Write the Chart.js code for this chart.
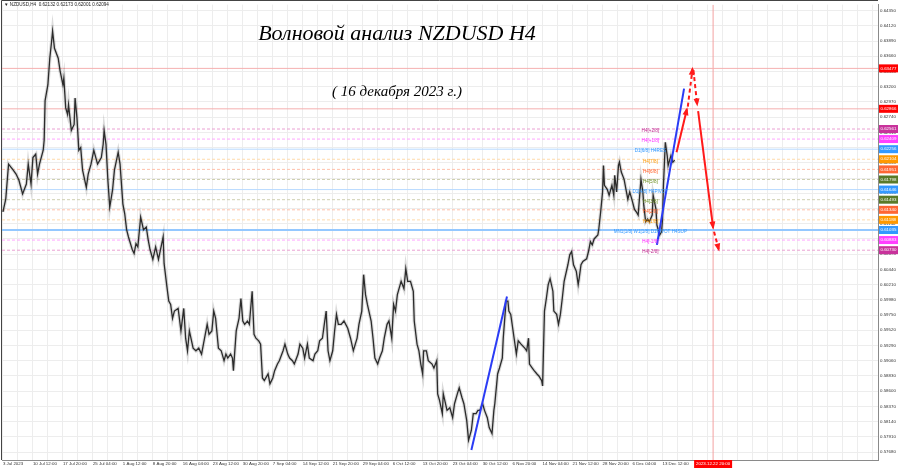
<!DOCTYPE html>
<html>
<head>
<meta charset="utf-8">
<script src="https://cdn.jsdelivr.net/npm/chart.js@4.4.1/dist/chart.umd.min.js"></script>
<style>
html, body { margin: 0; padding: 0; background: #fff; overflow: hidden; }
</style>
</head>
<body>
<canvas id="chart" width="900" height="468"></canvas>
<script>
// bar index (H4 bars since 3 Jul 2023) and close price
const priceBars = [0,3,6,11,14,17,21,25,27,30,32,35,37,39,43,44,45,48,50,52,53,55,59,61,64,65,67,69,70,73,76,77,79,81,83,85,89,91,94,97,101,105,107,108,110,112,114,117,119,123,125,128,130,132,134,138,140,142,144,147,150,153,155,157,160,163,166,171,172,175,177,
  179,181,183,187,190,193,195,197,199,203,206,209,212,214,218,220,223,225,227,230,233,236,238,240,243,245,246,249,252,254,256,258,261,263,266,268,270,273,275,277,279,283,285,288,290,293,295,299,301,304,306,309,311,315,317,320,322,325,327,331,333,336,338,341,343,345,347,349,352,354,356,358,
  361,364,368,371,374,378,380,383,385,387,389,393,395,397,400,402,405,407,410,412,415,417,419,421,425,428,430,432,435,438,439,442,444,446,448,449,452,454,458,460,463,464,466,469,470,474,477,480,482,485,487,490,492,495,497,500,502,505,507,509,512,514,517,519,522,524,525,528,530,533,534,537,539,540,
  542,545,548,550,553,557,559,561,562,565,567,570,572,575,576,578,580,582,584,587,588,591,593,595,597,599,603,605,607,609,612,614,615,617,619,623,625,627,629,631,635,636,638,640,641,642,645,647,650,652,653,655,657,658,660,663,665,667,669,672,674,676,678,681,683,684,686,688,690,693,694,697,698,701,703,704,705,707,709,710,713,715,717];
const priceClose = [0.6131,0.6150,0.6203,0.6194,0.6188,0.6179,0.6158,0.6173,0.6203,0.6173,0.6213,0.6218,0.6188,0.6203,0.6224,0.6239,0.6299,0.6323,0.6363,0.6389,0.6404,0.6378,0.6363,0.6344,0.6323,0.6333,0.6288,0.6278,0.6293,0.6254,0.6263,0.6303,0.6273,0.6224,0.6228,0.6194,0.6168,0.6188,0.6203,0.6224,0.6203,0.6213,0.6233,0.6254,0.6233,0.6179,0.6138,0.6164,0.6194,0.6221,0.6203,0.6143,0.6128,0.6104,0.6093,0.6074,0.6068,0.6083,0.6078,0.6123,0.6104,0.6108,0.6089,0.6074,0.6059,0.6078,0.6059,0.6093,0.6053,0.6018,0.5996,
  0.5991,0.5970,0.5981,0.5985,0.5951,0.5985,0.5940,0.5921,0.5951,0.5925,0.5921,0.5925,0.5916,0.5931,0.5961,0.5946,0.5951,0.5981,0.5970,0.5925,0.5921,0.5906,0.5916,0.5910,0.5916,0.5910,0.5891,0.5951,0.5970,0.6000,0.5966,0.5961,0.5966,0.5961,0.6011,0.5946,0.5940,0.5936,0.5931,0.5880,0.5876,0.5886,0.5871,0.5880,0.5891,0.5901,0.5906,0.5921,0.5931,0.5916,0.5910,0.5906,0.5901,0.5916,0.5931,0.5925,0.5910,0.5931,0.5910,0.5906,0.5916,0.5921,0.5936,0.5940,0.5961,0.5981,0.5921,0.5906,0.5921,0.5951,0.5976,0.5961,
  0.5961,0.5966,0.5955,0.5940,0.5921,0.5940,0.5961,0.5981,0.6036,0.6006,0.5991,0.5966,0.5940,0.5910,0.5901,0.5910,0.5921,0.5940,0.5961,0.5966,0.5940,0.5991,0.5981,0.6006,0.6026,0.6015,0.6045,0.6026,0.6026,0.6011,0.5966,0.5931,0.5921,0.5901,0.5886,0.5921,0.5921,0.5906,0.5901,0.5895,0.5906,0.5856,0.5846,0.5826,0.5856,0.5831,0.5835,0.5820,0.5841,0.5856,0.5865,0.5850,0.5841,0.5816,0.5786,0.5801,0.5826,0.5826,0.5831,0.5831,0.5841,0.5831,0.5820,0.5805,0.5796,0.5831,0.5841,0.5886,0.5895,0.5910,0.5940,0.5996,0.5996,0.5981,
  0.5976,0.5946,0.5916,0.5936,0.5931,0.5925,0.5921,0.5940,0.5901,0.5895,0.5891,0.5886,0.5883,0.5876,0.5868,0.5981,0.6000,0.6021,0.6030,0.6011,0.5981,0.5976,0.5961,0.5976,0.6000,0.6026,0.6051,0.6066,0.6071,0.6051,0.6041,0.6021,0.6030,0.6051,0.6056,0.6060,0.6071,0.6086,0.6081,0.6090,0.6096,0.6105,0.6131,0.6161,0.6201,0.6171,0.6165,0.6156,0.6171,0.6156,0.6186,0.6161,0.6201,0.6206,0.6191,0.6180,0.6165,0.6150,0.6161,0.6146,0.6135,0.6131,0.6126,0.6180,0.6161,0.6141,0.6116,0.6120,0.6116,0.6126,0.6156,0.6135,0.6111,0.6096,0.6101,0.6120,0.6171,0.6236,0.6216,0.6201,0.6216,0.6206,0.6209];

const xTickLabels = ['3 Jul 2023','10 Jul 12:00','17 Jul 20:00','25 Jul 04:00','1 Aug 12:00','8 Aug 20:00','16 Aug 04:00','23 Aug 12:00','30 Aug 20:00','7 Sep 04:00','14 Sep 12:00','21 Sep 20:00','29 Sep 04:00','6 Oct 12:00','13 Oct 20:00','23 Oct 04:00','30 Oct 12:00','6 Nov 20:00','14 Nov 04:00','21 Nov 12:00','28 Nov 20:00','6 Dec 04:00','13 Dec 12:00'];
const yTickValues = [0.57680,0.57910,0.58140,0.58370,0.58600,0.58830,0.59060,0.59290,0.59520,0.59750,0.59980,0.60210,0.60440,0.60670,0.60900,0.61130,0.61360,0.61590,0.61820,0.62050,0.62280,0.62510,0.62740,0.62970,0.63200,0.63430,0.63660,0.63890,0.64120,0.64350];

// horizontal levels
const levelPrices = [0.63477,0.62866,0.62561,0.62409,0.62256,0.62104,0.61951,0.61798,0.61646,0.61493,0.61340,0.61188,0.61035,0.60883,0.60730];
const levelNames = ['','','H4[+2/8]','H4[+1/8]','D1[6/8] H4RES','H4[7/8]','H4[6/8]','H4[5/8]','D1[4/8] H4PIVOT','H4[3/8]','H4[2/8]','H4[1/8]','MN1[1/8] W1[1/8] D1PIVOT H4SUP','H4[-1/8]','H4[-2/8]'];
const levelKinds = ['red','red','plum','pink','blue','orange','coral','olive','blue','olive','coral','orange','blueBold','pink','plum'];

// drawn waves
const waveBlue1 = [[500,0.5771],[538,0.6003]];
const waveBlue2 = [[698,0.6081],[727,0.6317]];
const forecastUp1 = [[719,0.6221],[730,0.6286]];
const forecastUp2 = [[731,0.6290],[736,0.6347]];
const forecastDown1 = [[737,0.6345],[741,0.6293]];
const forecastDown2 = [[742,0.6283],[758,0.6107]];
const forecastDown3 = [[759,0.6101],[764,0.6074]];
const markerBar = 758;
const markerLabel = '2023.12.22 20:00';

const X_MIN = -1, X_MAX = 934, Y_MIN = 0.5756, Y_MAX = 0.6444;
const small = { family: 'Liberation Sans', size: 4.4 };

const kindStyle = {
  red:      { line: '#f5b0b0', box: '#ff0000', text: '#ff0000', dash: [],     width: 1 },
  plum:     { line: '#eaa0d2', box: '#c8329b', text: '#c02c90', dash: [3, 2], width: 1 },
  pink:     { line: '#ffa6ff', box: '#ff40ff', text: '#ff30ff', dash: [3, 2], width: 1 },
  blue:     { line: '#b8daff', box: '#3399ff', text: '#3399ff', dash: [],     width: 1 },
  blueBold: { line: '#94c8ff', box: '#3399ff', text: '#3399ff', dash: [],     width: 2 },
  orange:   { line: '#ffdaab', box: '#ff9900', text: '#ff9900', dash: [3, 2], width: 1 },
  coral:    { line: '#ffc0aa', box: '#ff6633', text: '#ff5a22', dash: [3, 2], width: 1 },
  olive:    { line: '#cfcfb0', box: '#5a7a28', text: '#6b8e23', dash: [3, 2], width: 1 }
};

function pts(list) { return list.map(p => ({ x: p[0], y: p[1] })); }

let datasets = [];
function arrowSet(list, dashed) {
  return { data: pts(list), borderColor: '#ff1a1a', borderWidth: 2, borderDash: dashed ? [4, 3] : [],
           pointRadius: 0, arrow: '#ff1a1a', order: 0 };
}
datasets.push(arrowSet(forecastUp1, false));
datasets.push(arrowSet(forecastUp2, true));
datasets.push(arrowSet(forecastDown1, true));
datasets.push(arrowSet(forecastDown2, false));
datasets.push(arrowSet(forecastDown3, true));
datasets.push({ data: pts(waveBlue1), borderColor: '#2b3cf5', borderWidth: 2, pointRadius: 0, order: 0 });
datasets.push({ data: pts(waveBlue2), borderColor: '#2b3cf5', borderWidth: 2, pointRadius: 0, order: 0 });

let closeData = priceBars.map((b, i) => ({ x: b, y: priceClose[i] }));
datasets.push({ data: closeData, borderColor: '#2b2b2b', borderWidth: 1.3, pointRadius: 0, tension: 0, order: 1 });
datasets.push({ data: closeData, borderColor: 'rgba(0,0,0,0.14)', borderWidth: 3.5, pointRadius: 0, tension: 0, order: 2 });

levelPrices.forEach((p, i) => {
  let st = kindStyle[levelKinds[i]];
  datasets.push({ data: [{ x: X_MIN, y: p }, { x: X_MAX, y: p }], borderColor: st.line, borderWidth: st.width,
                  borderDash: st.dash, pointRadius: 0, order: 3 });
});
datasets.push({ data: [{ x: markerBar, y: Y_MIN }, { x: markerBar, y: Y_MAX }], borderColor: '#f3a2a2',
                borderWidth: 1, pointRadius: 0, order: 3 });

const overlay = {
  id: 'overlay',
  afterDatasetsDraw(chart) {
    const ctx = chart.ctx;
    const xs = chart.scales.x, ys = chart.scales.y;
    // arrow heads
    chart.data.datasets.forEach((ds, i) => {
      if (!ds.arrow) return;
      let d = chart.getDatasetMeta(i).data;
      let a = d[d.length - 2], b = d[d.length - 1];
      let ang = Math.atan2(b.y - a.y, b.x - a.x);
      ctx.save();
      ctx.translate(b.x, b.y);
      ctx.rotate(ang);
      ctx.fillStyle = ds.arrow;
      ctx.beginPath();
      ctx.moveTo(2, 0);
      ctx.lineTo(-6, -3);
      ctx.lineTo(-6, 3);
      ctx.closePath();
      ctx.fill();
      ctx.restore();
    });
    // level names
    ctx.save();
    ctx.font = '4.6px "Liberation Sans"';
    ctx.textAlign = 'center';
    ctx.textBaseline = 'middle';
    levelPrices.forEach((p, i) => {
      if (!levelNames[i]) return;
      ctx.fillStyle = kindStyle[levelKinds[i]].text;
      ctx.fillText(levelNames[i], xs.getPixelForValue(691), ys.getPixelForValue(p) + 2);
    });
    ctx.restore();
  },
  afterDraw(chart) {
    const ctx = chart.ctx;
    const xs = chart.scales.x, ys = chart.scales.y, area = chart.chartArea;
    ctx.save();
    // price boxes on the right axis
    ctx.font = '4.4px "Liberation Sans"';
    ctx.textAlign = 'left';
    ctx.textBaseline = 'middle';
    levelPrices.forEach((p, i) => {
      let y = ys.getPixelForValue(p);
      ctx.fillStyle = kindStyle[levelKinds[i]].box;
      ctx.fillRect(area.right + 1, y - 4, 19, 8);
      ctx.fillStyle = '#fff';
      ctx.fillText(p.toFixed(5), area.right + 2.5, y);
    });
    // time marker box
    let mx = xs.getPixelForValue(markerBar);
    ctx.fillStyle = '#ff0000';
    ctx.fillRect(mx - 19, area.bottom, 38, 8);
    ctx.fillStyle = '#fff';
    ctx.textAlign = 'center';
    ctx.fillText(markerLabel, mx, area.bottom + 4);
    // frame
    ctx.strokeStyle = '#444';
    ctx.lineWidth = 1;
    ctx.beginPath();
    ctx.moveTo(1.5, area.bottom);
    ctx.lineTo(1.5, 0.5);
    ctx.lineTo(area.right, 0.5);
    ctx.stroke();
    // header
    ctx.fillStyle = '#222';
    ctx.textAlign = 'left';
    ctx.font = '4.6px "Liberation Sans"';
    ctx.fillText('\u25BC NZDUSD,H4  0.62132 0.62173 0.62001 0.62094', 4, 5);
    // titles
    ctx.fillStyle = '#000';
    ctx.textAlign = 'center';
    ctx.font = 'italic 22px "Liberation Serif"';
    ctx.fillText('Волновой анализ NZDUSD H4', 397, 34);
    ctx.font = 'italic 15px "Liberation Serif"';
    ctx.fillText('( 16 декабря 2023 г.)', 397, 92);
    ctx.restore();
  }
};

new Chart(document.getElementById('chart'), {
  type: 'line',
  data: { datasets: datasets },
  plugins: [overlay],
  options: {
    responsive: false,
    animation: false,
    devicePixelRatio: 1,
    layout: { padding: { left: 2, top: 1, right: 0, bottom: 0 } },
    plugins: { legend: { display: false }, tooltip: { enabled: false } },
    elements: { line: { tension: 0 }, point: { radius: 0 } },
    scales: {
      x: {
        type: 'linear', min: X_MIN, max: X_MAX,
        afterBuildTicks: s => {
          let t = [];
          for (let v = 0; v <= 928; v += 16) t.push({ value: v });
          s.ticks = t;
        },
        afterFit: s => { s.height = 8; },
        grid: { color: '#ededed', drawTicks: false },
        border: { display: true, color: '#8a8a8a' },
        ticks: {
          autoSkip: false, maxRotation: 0, align: 'start', padding: 1,
          font: small, color: '#333',
          callback: v => (v % 32 === 0 && xTickLabels[v / 32]) ? xTickLabels[v / 32] : ''
        }
      },
      y: {
        position: 'right', min: Y_MIN, max: Y_MAX,
        afterBuildTicks: s => { s.ticks = yTickValues.map(v => ({ value: v })); },
        afterFit: s => { s.width = 22; },
        grid: { color: '#ededed', drawTicks: false },
        border: { display: true, color: '#8a8a8a' },
        ticks: { padding: 2, font: small, color: '#333', callback: v => v.toFixed(5) }
      }
    }
  }
});
</script>
</body>
</html>
